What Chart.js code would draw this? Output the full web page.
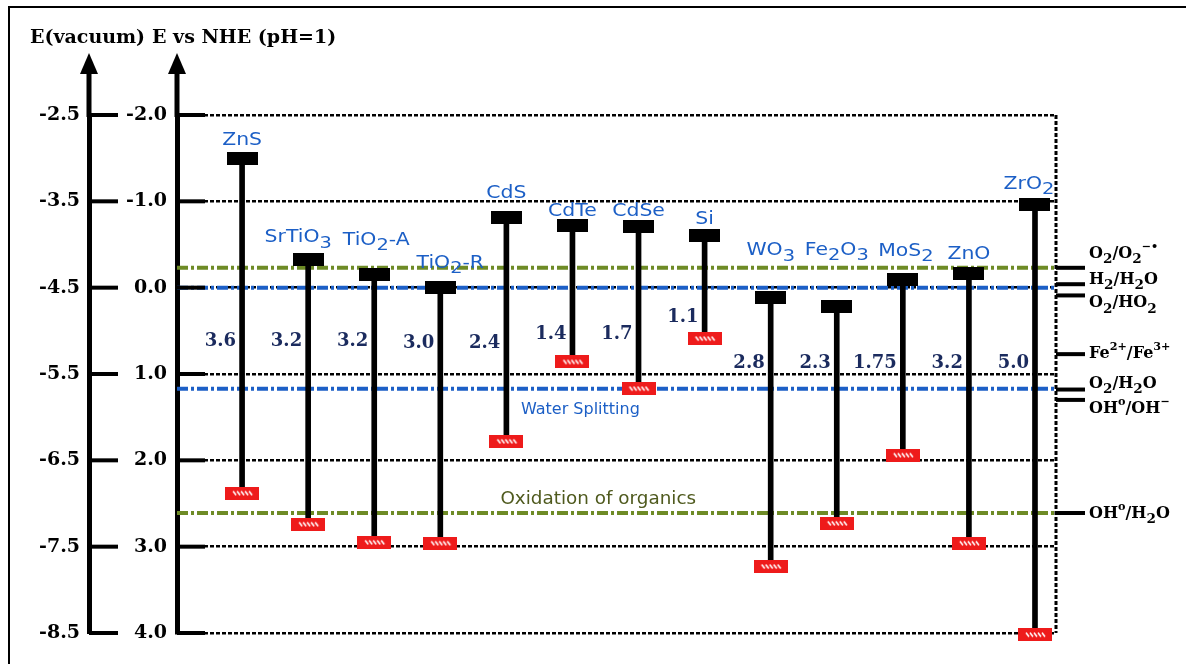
<!DOCTYPE html>
<html>
<head>
<meta charset="utf-8">
<script src="https://cdn.jsdelivr.net/npm/chart.js@4.4.1/dist/chart.umd.min.js"></script>
<style>
  body { margin: 0; background: #fff; }
  #frame { position: absolute; left: 8px; top: 6px; width: 1178px; height: 658px; border-left: 2px solid #000; border-top: 2px solid #000; }
  #bandChart { position: absolute; left: 0; top: 0; }
</style>
</head>
<body>
<div id="frame"></div>
<canvas id="bandChart" width="1186" height="664"></canvas>
<script>
// band edges vs NHE (V)
const materials = ['ZnS', 'SrTiO_{3}', 'TiO_{2}-A', 'TiO_{2}-R', 'CdS', 'CdTe', 'CdSe', 'Si', 'WO_{3}', 'Fe_{2}O_{3}', 'MoS_{2}', 'ZnO', 'ZrO_{2}'];
const conductionBand = [-1.5, -0.33, -0.15, 0.0, -0.81, -0.72, -0.71, -0.6, 0.11, 0.22, -0.09, -0.16, -0.96];
const valenceBand = [2.38, 2.74, 2.95, 2.96, 1.78, 0.86, 1.17, 0.59, 3.23, 2.73, 1.94, 2.96, 4.02];
const bandGaps = ['3.6', '3.2', '3.2', '3.0', '2.4', '1.4', '1.7', '1.1', '2.8', '2.3', '1.75', '3.2', '5.0'];

// redox couples on the right
const couples = ['O_{2}/O_{2}^{−•}', 'H_{2}/H_{2}O', 'O_{2}/HO_{2}', 'Fe^{2+}/Fe^{3+}', 'O_{2}/H_{2}O', 'OH^{o}/OH^{−}', 'OH^{o}/H_{2}O'];
const coupleLevels = [-0.23, -0.04, 0.09, 0.77, 1.18, 1.30, 2.61];

// dash-dot reference levels
const waterLevels = [0.0, 1.17];
const organicLevels = [-0.23, 2.61];

// axis ticks
const nheTicks = [-2, -1, 0, 1, 2, 3, 4];
const vacuumTicks = [-8.5, -7.5, -6.5, -5.5, -4.5, -3.5, -2.5];

// layout tweaks (pixels / label placement)
const xMin = -0.985, xMax = 12.318;
const labelLift = [13, 17, 30, 20, 20, 10, 10, 12, 42, 52, 24, 15, 16];
const labelDx = [0, -10, 2, 10, 0, 0, 0, 0, 0, 0, 3, 0, -6];
const gapLabelLevel = [0.68, 0.68, 0.68, 0.7, 0.7, 0.6, 0.6, 0.4, 0.93, 0.93, 0.93, 0.93, 0.93];
const coupleDy = [-10, 0, 12, 4, -2, 13, 5];

const BLUE = '#1c5fc6';
const GREEN = '#6e8b26';

const makeMark = (w, h, color, hatch) => {
  const c = document.createElement('canvas');
  c.width = w;
  c.height = h;
  const g = c.getContext('2d');
  g.fillStyle = color;
  g.fillRect(0, 0, w, h);
  if (hatch) {
    g.strokeStyle = '#fff';
    g.lineWidth = 1.6;
    for (let k = 0; k < 5; k++) {
      const x0 = w / 2 - 9 + k * 4;
      g.beginPath();
      g.moveTo(x0, h / 2 - 2);
      g.lineTo(x0 + 3, h / 2 + 2);
      g.stroke();
    }
  }
  return c;
};
const cbMark = makeMark(31, 13, '#000', false);
const vbMark = makeMark(34, 13, '#ee1b1b', true);

// text with _{sub} and ^{sup}
const drawRich = (ctx, str, px, py, o) => {
  const parts = [];
  const sub = o.sub || 0.85;
  str.replace(/([_^])\{([^}]*)\}|([^_^]+)/g, (m, k, inner, plain) => {
    if (plain !== undefined) parts.push({ t: plain, s: 1, dy: 0 });
    else if (k === '_') parts.push({ t: inner, s: sub, dy: 0.32 });
    else parts.push({ t: inner, s: 0.7, dy: -0.5 });
    return m;
  });
  const fontAt = s => `${o.weight || 'normal'} ${o.size * s}px ${o.family}`;
  let w = 0;
  parts.forEach(p => { ctx.font = fontAt(p.s); p.w = ctx.measureText(p.t).width; w += p.w; });
  let cx = o.align === 'center' ? -w / 2 : o.align === 'right' ? -w : 0;
  ctx.save();
  ctx.translate(px, py);
  ctx.scale(o.sx || 1, 1);
  ctx.fillStyle = o.color;
  ctx.textAlign = 'left';
  ctx.textBaseline = 'alphabetic';
  parts.forEach(p => {
    ctx.font = fontAt(p.s);
    ctx.fillText(p.t, cx, p.dy * o.size);
    cx += p.w;
  });
  ctx.restore();
};

const seg = (ctx, x1, y1, x2, y2) => {
  ctx.beginPath();
  ctx.moveTo(x1, y1);
  ctx.lineTo(x2, y2);
  ctx.stroke();
};

const decor = {
  id: 'decor',
  afterDraw(chart) {
    const { ctx, chartArea: a, scales: { x, y, yv } } = chart;
    ctx.save();
    ctx.fillStyle = '#000';
    ctx.strokeStyle = '#000';

    // axis arrows
    [yv.right, y.right].forEach(ax => {
      ctx.fillRect(ax - 2.5, 70, 5, a.top - 68);
      ctx.beginPath();
      ctx.moveTo(ax, 53);
      ctx.lineTo(ax - 9, 74);
      ctx.lineTo(ax + 9, 74);
      ctx.closePath();
      ctx.fill();
    });

    // inward tick marks
    ctx.lineWidth = 4;
    nheTicks.forEach(v => {
      const py = y.getPixelForValue(v);
      seg(ctx, y.right, py, y.right + 28, py);
    });
    vacuumTicks.forEach(v => {
      const py = yv.getPixelForValue(v);
      seg(ctx, yv.right, py, yv.right + 29, py);
    });

    // axis titles
    ctx.font = 'bold 19px "DejaVu Serif"';
    ctx.textAlign = 'left';
    ctx.textBaseline = 'alphabetic';
    ctx.fillText('E(vacuum)', 30, 43);
    ctx.fillText('E vs NHE (pH=1)', 152, 43);

    // material names
    materials.forEach((m, i) => {
      const px = x.getPixelForValue(i) + labelDx[i];
      const py = y.getPixelForValue(conductionBand[i]) - labelLift[i];
      drawRich(ctx, m, px, py, { family: '"DejaVu Sans"', size: 17, color: BLUE, align: 'center', sx: 1.2, sub: 0.95 });
    });

    // band gaps
    bandGaps.forEach((g, i) => {
      const px = x.getPixelForValue(i) - 6;
      const py = y.getPixelForValue(gapLabelLevel[i]);
      drawRich(ctx, g, px, py, { family: '"DejaVu Serif"', weight: 'bold', size: 18, color: '#1b2b5e', align: 'right' });
    });

    // redox couples
    ctx.lineWidth = 4;
    couples.forEach((c, k) => {
      const py = y.getPixelForValue(coupleLevels[k]);
      seg(ctx, a.right, py, a.right + 29, py);
      drawRich(ctx, c, a.right + 33, py + coupleDy[k], { family: '"DejaVu Serif"', weight: 'bold', size: 16, color: '#000', align: 'left' });
    });

    drawRich(ctx, 'Water Splitting', x.getPixelForValue(5.12), y.getPixelForValue(1.466),
      { family: '"DejaVu Sans"', size: 16, color: BLUE, align: 'center' });
    drawRich(ctx, 'Oxidation of organics', x.getPixelForValue(5.39), y.getPixelForValue(2.51),
      { family: '"DejaVu Sans"', size: 17, color: '#4f5a1e', align: 'center', sx: 1.08 });

    ctx.restore();
  }
};

const levelLine = (v, color) => ({
  type: 'line',
  data: [{ x: xMin, y: v }, { x: xMax, y: v }],
  borderColor: color,
  borderWidth: 4,
  borderDash: [11, 3, 3, 3],
  pointRadius: 0,
  order: 10
});

new Chart(document.getElementById('bandChart'), {
  type: 'bar',
  data: {
    datasets: [
      {
        type: 'bar',
        data: materials.map((m, i) => ({ x: i, y: [conductionBand[i], valenceBand[i]] })),
        backgroundColor: '#000',
        barThickness: 5,
        order: 5
      },
      {
        type: 'line',
        data: conductionBand.map((v, i) => ({ x: i, y: v })),
        showLine: false,
        pointStyle: cbMark,
        pointRadius: 9,
        clip: false,
        order: 1
      },
      {
        type: 'line',
        data: valenceBand.map((v, i) => ({ x: i, y: v })),
        showLine: false,
        pointStyle: vbMark,
        pointRadius: 9,
        clip: false,
        order: 1
      },
      ...organicLevels.map(v => levelLine(v, GREEN)),
      ...waterLevels.map(v => levelLine(v, BLUE)),
      {
        type: 'line',
        data: [{ x: xMax, y: nheTicks[0] }, { x: xMax, y: nheTicks[nheTicks.length - 1] }],
        borderColor: '#000',
        borderWidth: 3,
        borderDash: [4, 2],
        pointRadius: 0,
        clip: false,
        order: 10
      }
    ]
  },
  options: {
    responsive: false,
    animation: false,
    devicePixelRatio: 1,
    events: [],
    layout: { padding: { left: 10, top: 115, right: 130, bottom: 31 } },
    plugins: {
      legend: { display: false },
      tooltip: { enabled: false }
    },
    scales: {
      x: { type: 'linear', min: xMin, max: xMax, display: false, offset: false },
      y: {
        type: 'linear',
        position: 'left',
        weight: 0,
        reverse: true,
        min: -2,
        max: 4,
        afterFit: s => { s.width = 88; },
        afterBuildTicks: s => { s.ticks = nheTicks.map(v => ({ value: v })); },
        ticks: {
          padding: 10,
          color: '#000',
          font: { family: 'DejaVu Serif', weight: 'bold', size: 19 },
          callback: v => v.toFixed(1)
        },
        grid: { color: '#000', lineWidth: 2.5, drawTicks: false },
        border: { color: '#000', width: 5, dash: [4, 2] }
      },
      yv: {
        type: 'linear',
        position: 'left',
        weight: 1,
        min: -8.5,
        max: -2.5,
        afterFit: s => { s.width = 79; },
        afterBuildTicks: s => { s.ticks = vacuumTicks.map(v => ({ value: v })); },
        ticks: {
          padding: 9,
          color: '#000',
          font: { family: 'DejaVu Serif', weight: 'bold', size: 19 },
          callback: v => v.toFixed(1)
        },
        grid: { drawOnChartArea: false, drawTicks: false },
        border: { color: '#000', width: 5 }
      }
    }
  },
  plugins: [decor]
});
</script>
</body>
</html>
